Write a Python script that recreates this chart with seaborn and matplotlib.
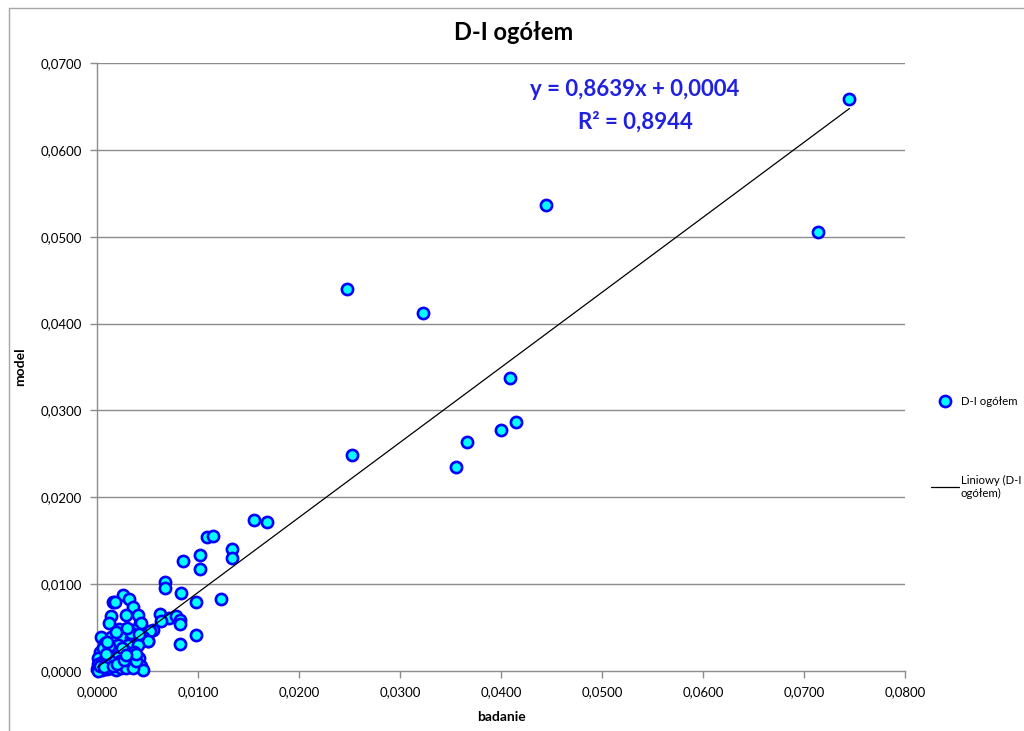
import matplotlib
matplotlib.use("Agg")
import matplotlib.pyplot as plt
import seaborn as sns
import numpy as np
import pandas as pd
from matplotlib.lines import Line2D

# ---- data ----
badanie = [
    0.0745, 0.0714, 0.0445, 0.0248, 0.0323, 0.0409, 0.0415, 0.0400, 0.0366, 0.0252, 0.0355,
    0.0155, 0.0168, 0.0109, 0.0115, 0.0102, 0.0102, 0.0134, 0.0134, 0.0085, 0.0067, 0.0067,
    0.0083, 0.0098, 0.0123, 0.0062, 0.0071, 0.0078, 0.0082, 0.0082, 0.0063, 0.0055, 0.0050,
    0.0098, 0.0082, 0.0043,
    0.0026, 0.0032, 0.0036, 0.0016, 0.0018, 0.0029, 0.0041, 0.0014, 0.0012, 0.0044, 0.0022,
    0.0036, 0.0052, 0.0004, 0.0014, 0.0024, 0.0034, 0.0046, 0.0050, 0.0008, 0.0021, 0.0031,
    0.0041, 0.0003, 0.0016, 0.0027, 0.0037, 0.0001, 0.0011, 0.0021, 0.0032, 0.0042, 0.0001,
    0.0005, 0.0008, 0.0013, 0.0023, 0.0033, 0.0044, 0.0046, 0.0000, 0.0002, 0.0005, 0.0010,
    0.0013, 0.0019, 0.0024, 0.0029, 0.0036, 0.0001, 0.0003, 0.0007, 0.0016, 0.0020, 0.0027,
    0.0039, 0.0006, 0.0012, 0.0025, 0.0034, 0.0019, 0.0030, 0.0039, 0.0009, 0.0029, 0.0010,
    0.0042,
]
model = [
    0.0659, 0.0505, 0.0536, 0.0440, 0.0412, 0.0337, 0.0287, 0.0278, 0.0264, 0.0249, 0.0235,
    0.0174, 0.0171, 0.0154, 0.0155, 0.0133, 0.0118, 0.0140, 0.0130, 0.0127, 0.0103, 0.0096,
    0.0090, 0.0080, 0.0083, 0.0066, 0.0061, 0.0063, 0.0059, 0.0054, 0.0057, 0.0047, 0.0035,
    0.0042, 0.0031, 0.0055,
    0.0088, 0.0083, 0.0074, 0.0079, 0.0080, 0.0064, 0.0064, 0.0063, 0.0055, 0.0055, 0.0048,
    0.0047, 0.0046, 0.0039, 0.0039, 0.0039, 0.0038, 0.0039, 0.0034, 0.0032, 0.0030, 0.0030,
    0.0030, 0.0022, 0.0022, 0.0024, 0.0022, 0.0015, 0.0016, 0.0017, 0.0015, 0.0015, 0.0008,
    0.0010, 0.0010, 0.0011, 0.0011, 0.0009, 0.0006, 0.0001, 0.0002, 0.0004, 0.0001, 0.0002,
    0.0003, 0.0001, 0.0004, 0.0003, 0.0003, 0.0000, 0.0006, 0.0005, 0.0006, 0.0008, 0.0013,
    0.0012, 0.0027, 0.0029, 0.0026, 0.0044, 0.0045, 0.0050, 0.0020, 0.0019, 0.0018, 0.0033,
    0.0043,
]
slope = 0.8639
intercept = 0.0004
r_squared = 0.8944
series_name = "D-I ogółem"
trend_name = "Liniowy (D-I\nogółem)"
x_ticks = [0.0, 0.01, 0.02, 0.03, 0.04, 0.05, 0.06, 0.07, 0.08]
y_ticks = [0.0, 0.01, 0.02, 0.03, 0.04, 0.05, 0.06, 0.07]

def fmt(v):
    return f"{v:.4f}".replace(".", ",")

df = pd.DataFrame({"badanie": badanie, "model": model})
trend_x = np.array([min(badanie), max(badanie)])
trend_df = pd.DataFrame({"x": trend_x, "y": slope * trend_x + intercept})

sns.set_theme(style="white")
plt.rcParams["font.family"] = ["Lato", "DejaVu Sans"]
plt.rcParams["text.color"] = "black"

W, H = 1024, 731
fig = plt.figure(figsize=(W / 100, H / 100), dpi=100)
ax = fig.add_axes([97 / W, 1 - 671 / H, (905 - 97) / W, (671 - 63) / H])

# outer chart border (left and top visible)
fig.add_artist(Line2D([9 / W, 9 / W], [0, 1 - 8 / H], transform=fig.transFigure,
                      color="#a6a6a6", lw=1))
fig.add_artist(Line2D([9 / W, 1], [1 - 8 / H, 1 - 8 / H], transform=fig.transFigure,
                      color="#a6a6a6", lw=1))

for yv in y_ticks[1:]:
    ax.axhline(yv, color="#8c8c8c", lw=1, zorder=0)

sns.scatterplot(data=df, x="badanie", y="model", ax=ax, s=65, color="#00FFFF",
                edgecolor="#0000FF", linewidth=1.9, zorder=3, clip_on=False, legend=False)
sns.lineplot(data=trend_df, x="x", y="y", ax=ax, color="black", lw=0.9, zorder=4)

ax.set_xlim(0, 0.08)
ax.set_ylim(0, 0.07)
ax.set_xticks(x_ticks)
ax.set_yticks(y_ticks)
ax.set_xticklabels([fmt(v) for v in x_ticks], fontsize=9.5, color="black")
ax.set_yticklabels([fmt(v) for v in y_ticks], fontsize=9.5, color="black")
ax.tick_params(axis="both", direction="out", length=5, width=1, color="#8c8c8c",
               bottom=True, left=True, pad=6)
for side in ["top", "right"]:
    ax.spines[side].set_visible(False)
for side in ["left", "bottom"]:
    ax.spines[side].set_color("#8c8c8c")
    ax.spines[side].set_linewidth(1)

ax.set_xlabel("badanie", fontsize=10, fontweight="bold", labelpad=9, color="black")
ax.set_ylabel("model", fontsize=10, fontweight="bold", labelpad=10, color="black")

fig.text(514 / W, 1 - 33 / H, series_name, ha="center", va="center",
         fontsize=17, fontweight="bold", color="black")

eq_color = "#2020E0"
ax.text(635 / W, 1 - 90 / H, f"y = {slope:.4f}x + {intercept:.4f}".replace(".", ","),
        transform=fig.transFigure, ha="center", va="center", fontsize=16,
        fontweight="bold", color=eq_color)
ax.text(635 / W, 1 - 122 / H, f"R² = {r_squared:.4f}".replace(".", ","),
        transform=fig.transFigure, ha="center", va="center", fontsize=16,
        fontweight="bold", color=eq_color)

h1 = Line2D([], [], marker="o", linestyle="none", markersize=8,
            markerfacecolor="#00FFFF", markeredgecolor="#0000FF", markeredgewidth=1.9)
h2 = Line2D([], [], color="black", lw=0.9)
fig.legend([h1, h2], [series_name, trend_name], loc="upper left",
           bbox_to_anchor=(926 / W, 1 - 391 / H), frameon=False, fontsize=8.2,
           labelspacing=6.0, handlelength=2.5, handletextpad=0.15, borderaxespad=0,
           labelcolor="black")

fig.savefig("out.png", dpi=100)
